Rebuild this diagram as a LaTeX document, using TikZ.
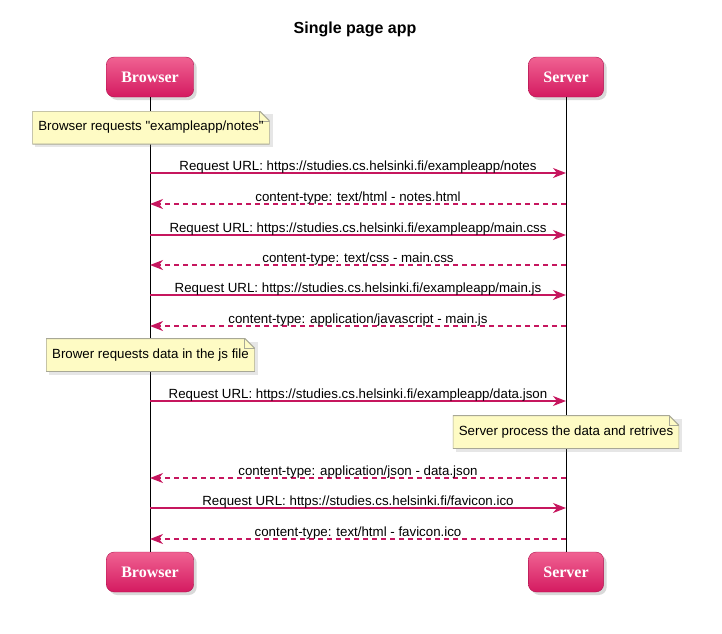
\documentclass[tikz,border=0pt]{standalone}
\usepackage{fontspec}
\setmainfont{Liberation Sans}[Ligatures=TeXOff]
\newfontfamily\partfont{Liberation Serif}
\usetikzlibrary{arrows.meta,shadows}

\definecolor{msgpink}{RGB}{198,22,94}
\definecolor{parttop}{RGB}{240,98,146}
\definecolor{partbot}{RGB}{212,26,96}
\definecolor{partline}{RGB}{176,18,78}
\definecolor{notefill}{RGB}{254,251,196}
\definecolor{noteline}{RGB}{168,168,150}

\tikzset{
  part/.style={rounded corners=8pt, draw=partline, top color=parttop, bottom color=partbot,
    minimum height=40pt, inner xsep=15pt, text=white,
    font=\partfont\bfseries\fontsize{16}{18}\selectfont,
    drop shadow={shadow xshift=3pt, shadow yshift=-3pt, opacity=0.3}},
  note/.style={inner xsep=6pt, minimum height=33pt, font=\fontsize{13.3}{15}\selectfont,
    drop shadow={shadow xshift=3pt, shadow yshift=-3pt, opacity=0.2},
    path picture={
      \filldraw[fill=notefill, draw=noteline, line width=1pt]
        (path picture bounding box.north west) -- ([xshift=-10pt]path picture bounding box.north east)
        -- ([yshift=-10pt]path picture bounding box.north east) -- (path picture bounding box.south east)
        -- (path picture bounding box.south west) -- cycle;
      \draw[noteline, line width=1pt] ([xshift=-10pt]path picture bounding box.north east)
        |- ([yshift=-10pt]path picture bounding box.north east);}},
  msg/.style={draw=msgpink, line width=1.5pt, -{Stealth[length=13pt, width=10pt, inset=4pt]}},
  reply/.style={msg, dash pattern=on 5pt off 4pt},
  lbl/.style={anchor=base, yshift=3pt, inner sep=0pt, font=\fontsize{13.3}{15}\selectfont},
  life/.style={draw=black, line width=0.8pt}
}

\begin{document}
\begin{tikzpicture}[x=1pt, y=-1pt]
    \useasboundingbox (0,0) rectangle (722,633);
    \node[font=\bfseries\fontsize{16}{18}\selectfont] (title) at (355,29) {Single page app};
    % participants
    \node[part] (BT) at (150,77) {Browser};
    \node[part] (ST) at (566,77) {Server};
    \node[part] (BB) at (150,572) {Browser};
    \node[part] (SB) at (566,572) {Server};
    \path[life] (BT) -- (BB);
    \path[life] (ST) -- (SB);
    % notes
    \node[note] (N1) at (151,127.5) {Browser requests "exampleapp/notes"};
    \node[note] (N2) at (150.5,355) {Brower requests data in the js file};
    \node[note] (N3) at (566,432) {Server process the data and retrives};
    % message ends on the lifelines
    \coordinate (b1) at (150,173); \coordinate (s1) at (566,173);
    \coordinate (b2) at (150,204); \coordinate (s2) at (566,204);
    \coordinate (b3) at (150,235); \coordinate (s3) at (566,235);
    \coordinate (b4) at (150,265); \coordinate (s4) at (566,265);
    \coordinate (b5) at (150,295); \coordinate (s5) at (566,295);
    \coordinate (b6) at (150,326); \coordinate (s6) at (566,326);
    \coordinate (b7) at (150,401); \coordinate (s7) at (566,401);
    \coordinate (b8) at (150,478); \coordinate (s8) at (566,478);
    \coordinate (b9) at (150,508); \coordinate (s9) at (566,508);
    \coordinate (b10) at (150,539); \coordinate (s10) at (566,539);
    % messages
    \path (b1) edge[msg] node[lbl] {Request URL: https://studies.cs.helsinki.fi/exampleapp/notes} (s1);
    \path (s2) edge[reply] node[lbl] {content-type: text/html - notes.html} (b2);
    \path (b3) edge[msg] node[lbl] {Request URL: https://studies.cs.helsinki.fi/exampleapp/main.css} (s3);
    \path (s4) edge[reply] node[lbl] {content-type: text/css - main.css} (b4);
    \path (b5) edge[msg] node[lbl] {Request URL: https://studies.cs.helsinki.fi/exampleapp/main.js} (s5);
    \path (s6) edge[reply] node[lbl] {content-type: application/javascript - main.js} (b6);
    \path (b7) edge[msg] node[lbl] {Request URL: https://studies.cs.helsinki.fi/exampleapp/data.json} (s7);
    \path (s8) edge[reply] node[lbl] {content-type: application/json - data.json} (b8);
    \path (b9) edge[msg] node[lbl] {Request URL: https://studies.cs.helsinki.fi/favicon.ico} (s9);
    \path (s10) edge[reply] node[lbl] {content-type: text/html - favicon.ico} (b10);
\end{tikzpicture}
\end{document}
